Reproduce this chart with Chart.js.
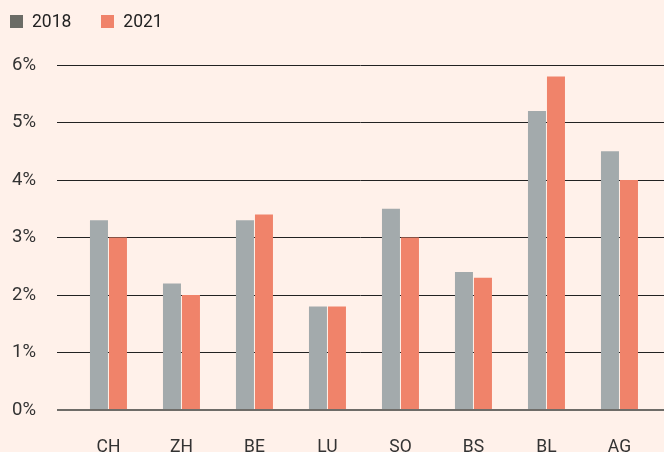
<!DOCTYPE html>
<html>
<head>
<meta charset="utf-8">
<script src="https://cdn.jsdelivr.net/npm/chart.js@4/dist/chart.umd.min.js"></script>
<style>
  html, body { margin: 0; padding: 0; background: #fff1ea; }
  #wrap { position: relative; width: 664px; height: 452px; background: #fff1ea; }
  #legend { position: absolute; left: 10px; top: 11px; font-family: Roboto, sans-serif; font-size: 17.5px; color: #222; display: flex; }
  .item { display: flex; align-items: center; margin-right: 30px; }
  .sw { width: 13px; height: 13px; margin-right: 9px; }
  canvas { position: absolute; left: 0; top: 0; }
</style>
</head>
<body>
<div id="wrap">
  <canvas id="c" width="664" height="452"></canvas>
  <div id="legend"></div>
</div>
<script>
const categories = ["CH", "ZH", "BE", "LU", "SO", "BS", "BL", "AG"];
const series2018 = [3.3, 2.2, 3.3, 1.8, 3.5, 2.4, 5.2, 4.5];
const series2021 = [3.0, 2.0, 3.4, 1.8, 3.0, 2.3, 5.8, 4.0];
const seriesNames = ["2018", "2021"];
const yTicks = [0, 1, 2, 3, 4, 5, 6];

const barColors = ["#a3aaac", "#f0836a"];
const legendColors = ["#6b6c66", "#f0836a"];

const leg = document.getElementById('legend');
seriesNames.forEach((n, i) => {
  const it = document.createElement('div'); it.className = 'item';
  const sw = document.createElement('div'); sw.className = 'sw'; sw.style.background = legendColors[i];
  const t = document.createElement('span'); t.textContent = n;
  it.appendChild(sw); it.appendChild(t); leg.appendChild(it);
});

const toXY = arr => arr.map((v, i) => ({ x: i, y: v }));

new Chart(document.getElementById('c'), {
  type: 'bar',
  data: {
    datasets: [
      { label: seriesNames[0], data: toXY(series2018), backgroundColor: barColors[0], categoryPercentage: 38/73, barPercentage: 18/19 },
      { label: seriesNames[1], data: toXY(series2021), backgroundColor: barColors[1], categoryPercentage: 38/73, barPercentage: 18/19 }
    ]
  },
  options: {
    responsive: false,
    animation: false,
    layout: { padding: { top: 65, left: 0, right: 0, bottom: 0 } },
    plugins: { legend: { display: false }, tooltip: { enabled: false } },
    scales: {
      x: {
        type: 'linear',
        offset: false,
        min: -0.705,
        max: 7.61,
        afterBuildTicks: s => { s.ticks = categories.map((c, i) => ({ value: i })); },
        afterFit: s => { s.height = 42; },
        ticks: {
          callback: v => categories[v] ?? '',
          font: { family: 'Roboto', size: 17.5 },
          color: '#333',
          padding: 19,
          maxRotation: 0,
          autoSkip: false
        },
        grid: { display: false },
        border: { display: false }
      },
      y: {
        min: 0,
        max: 6,
        afterBuildTicks: s => { s.ticks = yTicks.map(v => ({ value: v })); },
        afterFit: s => { s.width = 57; },
        ticks: {
          callback: v => v + '%',
          font: { family: 'Roboto', size: 18.5 },
          color: '#333',
          padding: 21
        },
        grid: {
          drawTicks: false,
          color: ctx => ctx.tick && ctx.tick.value === 0 ? '#6e6c68' : '#222',
          lineWidth: ctx => ctx.tick && ctx.tick.value === 0 ? 2 : 1
        },
        border: { display: false }
      }
    }
  }
});
</script>
</body>
</html>
